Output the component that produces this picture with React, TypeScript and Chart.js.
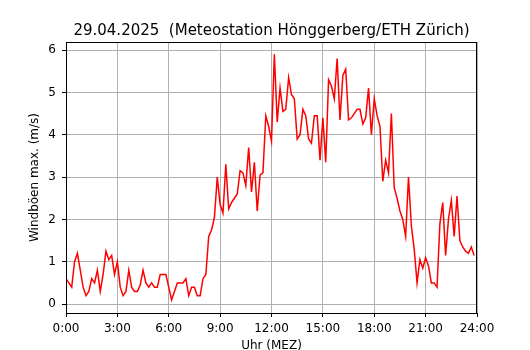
import React, { useEffect, useRef } from "react";
import { Chart, registerables } from "chart.js";

Chart.register(...registerables);

// 10-minute values, 0:00 ... 23:50
const windGust: number[] = [
  0.6, 0.5, 0.4, 1.0, 1.2, 0.8, 0.4, 0.2, 0.3, 0.6, 0.5, 0.8,
  0.3, 0.7, 1.25, 1.05, 1.15, 0.7, 1.0, 0.4, 0.2, 0.3, 0.8, 0.4,
  0.3, 0.3, 0.45, 0.8, 0.5, 0.4, 0.5, 0.4, 0.4, 0.7, 0.7, 0.7,
  0.4, 0.1, 0.3, 0.5, 0.5, 0.5, 0.6, 0.2, 0.4, 0.4, 0.2, 0.2,
  0.6, 0.7, 1.6, 1.75, 2.05, 3.0, 2.35, 2.15, 3.3, 2.25, 2.4, 2.5,
  2.6, 3.15, 3.1, 2.8, 3.7, 2.65, 3.35, 2.2, 3.05, 3.1, 4.45, 4.2,
  3.85, 5.9, 4.3, 5.1, 4.55, 4.6, 5.35, 4.95, 4.85, 3.9, 4.0, 4.6,
  4.45, 3.9, 3.8, 4.45, 4.45, 3.4, 4.4, 3.35, 5.3, 5.15, 4.85, 5.8,
  4.35, 5.4, 5.55, 4.35, 4.4, 4.5, 4.6, 4.6, 4.25, 4.4, 5.1, 4.0,
  4.85, 4.45, 4.2, 2.9, 3.4, 3.1, 4.5, 2.75, 2.5, 2.2, 2.0, 1.6,
  3.0, 1.85, 1.3, 0.5, 1.05, 0.85, 1.1, 0.9, 0.5, 0.5, 0.4, 1.9,
  2.4, 1.15, 2.0, 2.45, 1.6, 2.55, 1.5, 1.35, 1.25, 1.2, 1.35, 1.15,
];
const stepMinutes = 10;
const xTickHours: number[] = [0, 3, 6, 9, 12, 15, 18, 21, 24];
const yTickValues: number[] = [0, 1, 2, 3, 4, 5, 6];
const titleText = "29.04.2025  (Meteostation Hönggerberg/ETH Zürich)";
const xLabel = "Uhr (MEZ)";
const yLabel = "Windböen max. (m/s)";

const FONT = "'DejaVu Sans', sans-serif";

const boxPlugin = {
  id: "boxPlugin",
  afterDraw(chart: any) {
    const { ctx, chartArea } = chart;
    ctx.save();
    ctx.strokeStyle = "#000";
    ctx.lineWidth = 1;
    ctx.strokeRect(
      Math.round(chartArea.left) + 0.5,
      Math.round(chartArea.top) + 0.5,
      Math.round(chartArea.right - chartArea.left) - 1,
      Math.round(chartArea.bottom - chartArea.top)
    );
    ctx.restore();
  },
};

export default function App() {
  const ref = useRef<HTMLCanvasElement | null>(null);
  useEffect(() => {
    if (!ref.current) return;
    const points = windGust.map((v, i) => ({ x: (i * stepMinutes) / 60, y: v }));
    const chart = new Chart(ref.current, {
      type: "line",
      data: {
        datasets: [
          {
            data: points,
            borderColor: "#ff0000",
            borderWidth: 1.5,
            pointRadius: 0,
            tension: 0,
            fill: false,
          },
        ],
      },
      options: {
        animation: false,
        responsive: false,
        devicePixelRatio: 1,
        layout: { padding: { left: 0, right: 53, top: 0, bottom: 0 } },
        plugins: {
          legend: { display: false },
          tooltip: { enabled: false },
          title: {
            display: true,
            text: titleText,
            fullSize: false,
            color: "#000",
            font: { family: FONT, size: 15, weight: "normal" },
            padding: { top: 22, bottom: 2 },
          },
        },
        scales: {
          x: {
            type: "linear",
            min: 0,
            max: 24,
            afterBuildTicks: (scale: any) => {
              scale.ticks = xTickHours.map((v) => ({ value: v }));
            },
            afterFit: (scale: any) => {
              scale.height = 37;
            },
            ticks: {
              color: "#000",
              font: { family: FONT, size: 12 },
              padding: 5,
              maxRotation: 0,
              autoSkip: false,
              callback: (v: any) => `${v}:00`,
            },
            grid: {
              color: "#b0b0b0",
              lineWidth: 1,
              tickColor: "#000",
              tickLength: 4,
            },
            border: { display: true, color: "#000", width: 1 },
            title: {
              display: true,
              text: xLabel,
              color: "#000",
              font: { family: FONT, size: 12 },
              padding: { top: 0, bottom: -3 },
            },
          },
          y: {
            type: "linear",
            min: -0.21,
            max: 6.19,
            afterBuildTicks: (scale: any) => {
              scale.ticks = yTickValues.map((v) => ({ value: v }));
            },
            afterFit: (scale: any) => {
              scale.width = 66;
            },
            ticks: {
              color: "#000",
              font: { family: FONT, size: 12 },
              padding: 6,
              callback: (v: any) => `${v}`,
            },
            grid: {
              color: "#b0b0b0",
              lineWidth: 1,
              tickColor: "#000",
              tickLength: 4,
            },
            border: { display: true, color: "#000", width: 1 },
            title: {
              display: true,
              text: yLabel,
              color: "#000",
              font: { family: FONT, size: 12 },
              padding: { top: 28, bottom: 0 },
            },
          },
        },
      },
      plugins: [boxPlugin],
    });
    return () => chart.destroy();
  }, []);
  return (
    <div style={{ position: "absolute", left: 0, top: 0, width: 530, height: 350, background: "#fff" }}>
      <canvas ref={ref} width={530} height={350} style={{ width: 530, height: 350 }} />
    </div>
  );
}
